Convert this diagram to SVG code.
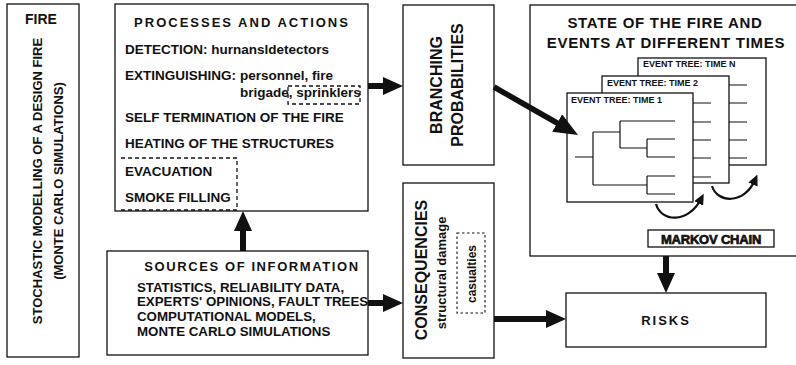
<svg xmlns="http://www.w3.org/2000/svg" width="796" height="365" viewBox="0 0 796 365">
<style>
.box{fill:#fff;stroke:#111;stroke-width:1.3}
.dash{fill:none;stroke:#111;stroke-width:1.3;stroke-dasharray:4,3}
.dot{fill:none;stroke:#111;stroke-width:1.1;stroke-dasharray:2.5,2.5}
text{font-family:"Liberation Sans",Arial,sans-serif;font-weight:bold;fill:#111}
.t13{font-size:13px}
.b{font-size:13.5px}
.s{font-size:13.3px}
.ttl{font-size:13px;letter-spacing:2px}
.et{font-size:9px}
.conn{stroke:#111;fill:none}
.thick{stroke-width:6}
.tree{stroke:#111;stroke-width:1.2;fill:none}
</style>
<defs>
<marker id="head" markerUnits="userSpaceOnUse" viewBox="0 0 20 18" markerWidth="20" markerHeight="18" refX="8" refY="9" orient="auto"><path d="M0,0 L20,9 L0,18 z" fill="#111"/></marker>
<marker id="headL" markerUnits="userSpaceOnUse" viewBox="0 0 24 20" markerWidth="24" markerHeight="20" refX="12" refY="10" orient="auto"><path d="M0,0 L24,10 L0,20 z" fill="#111"/></marker>
<marker id="headS" markerUnits="userSpaceOnUse" viewBox="0 0 11 10" markerWidth="11" markerHeight="10" refX="5" refY="5" orient="auto"><path d="M0,0 L11,5 L0,10 z" fill="#111"/></marker>
</defs>

<g id="fire">
<rect class="box" x="7" y="4" width="72" height="353"/>
<text x="41" y="24" text-anchor="middle" font-size="14">FIRE</text>
<text transform="translate(42,181) rotate(-90)" text-anchor="middle" class="t13">STOCHASTIC MODELLING OF A DESIGN FIRE</text>
<text transform="translate(63,181) rotate(-90)" text-anchor="middle" class="t13">(MONTE CARLO SIMULATIONS)</text>
</g>

<g id="processes">
<rect class="box" x="115" y="4" width="253" height="207"/>
<text x="242" y="27" text-anchor="middle" class="ttl">PROCESSES AND ACTIONS</text>
<text x="125" y="54" class="b">DETECTION: hurnansldetectors</text>
<text x="125" y="80" class="b">EXTINGUISHING:</text>
<text x="240" y="80" class="b">personnel, fire</text>
<text x="240" y="97" class="b">brigade, sprinklers</text>
<rect class="dash" x="288" y="86" width="72" height="18"/>
<text x="125" y="122" class="b">SELF TERMINATION OF THE FIRE</text>
<text x="125" y="148" class="b">HEATING OF THE STRUCTURES</text>
<path class="dash" d="M121,158 H237 V210 H121"/>
<text x="125" y="176" class="b">EVACUATION</text>
<text x="125" y="202" class="b">SMOKE FILLING</text>
</g>

<g id="sources">
<rect class="box" x="107" y="251" width="261" height="104"/>
<text x="252" y="271" text-anchor="middle" class="t13" style="letter-spacing:1.6px">SOURCES OF INFORMATION</text>
<text x="137" y="292" class="s">STATISTICS, RELIABILITY DATA,</text>
<text x="137" y="306" class="s">EXPERTS' OPINIONS, FAULT TREES</text>
<text x="137" y="321" class="s">COMPUTATIONAL MODELS,</text>
<text x="137" y="336" class="s">MONTE CARLO SIMULATIONS</text>
</g>

<g id="branching">
<rect class="box" x="403" y="5" width="91" height="160"/>
<text transform="translate(442,85) rotate(-90)" text-anchor="middle" font-size="16">BRANCHING</text>
<text transform="translate(463,85) rotate(-90)" text-anchor="middle" font-size="16">PROBABILITIES</text>
</g>

<g id="consequencies">
<rect class="box" x="403" y="183" width="91" height="175"/>
<text transform="translate(427,270) rotate(-90)" text-anchor="middle" font-size="16">CONSEQUENCIES</text>
<text transform="translate(446,273) rotate(-90)" text-anchor="middle" class="t13">structural damage</text>
<rect class="dot" x="457" y="233" width="28" height="80"/>
<text transform="translate(476,274) rotate(-90)" text-anchor="middle" font-size="12">casualties</text>
</g>

<g id="state">
<rect class="box" x="530" y="5" width="270" height="251"/>
<text x="665" y="28" text-anchor="middle" font-size="15" style="letter-spacing:0.7px">STATE OF THE FIRE AND</text>
<text x="666" y="48" text-anchor="middle" font-size="15" style="letter-spacing:0.7px">EVENTS AT DIFFERENT TIMES</text>
</g>

<g id="tree-n">
<rect class="box" x="638" y="58" width="128" height="107" stroke-width="1.1"/>
<text x="643" y="67" class="et">EVENT TREE: TIME N</text>
<path class="tree" d="M729,85 H747 M729,103 H747 M729,122 H747 M729,140 H747 M729,158 H747"/>
</g>

<g id="tree-2">
<rect class="box" x="602" y="76" width="127" height="107" stroke-width="1.1"/>
<text x="607" y="86" class="et">EVENT TREE: TIME 2</text>
<path class="tree" d="M693,103 H711 M693,122 H711 M693,140 H711 M693,158 H711 M693,177 H711"/>
</g>

<g id="tree-1">
<rect class="box" x="567" y="93" width="126" height="109" stroke-width="1.1"/>
<text x="571" y="103" class="et">EVENT TREE: TIME 1</text>
<path class="tree" d="M575,157 H593 M593,132 V185 M593,132 H620 M620,121 V148 M620,121 H675 M620,148 H647 M647,139 V157 M647,139 H675 M647,157 H675 M593,185 H647 M647,176 V194 M647,176 H675 M647,194 H675"/>
</g>

<g id="markov">
<rect class="box" x="648" y="230" width="126" height="17" stroke-width="1.1"/>
<text x="711" y="243.5" text-anchor="middle" font-size="13" style="stroke:#111;stroke-width:0.7;letter-spacing:-0.2px">MARKOV CHAIN</text>
</g>

<g id="risks">
<rect class="box" x="566" y="293" width="200" height="54"/>
<text x="666" y="325" text-anchor="middle" class="ttl">RISKS</text>
</g>

<g id="connectors">
<line class="conn thick" x1="243" y1="251" x2="243" y2="223" marker-end="url(#head)" stroke-width="5"/>
<line class="conn thick" x1="368" y1="86" x2="391" y2="86" marker-end="url(#head)"/>
<line class="conn thick" x1="368" y1="303" x2="391" y2="303" marker-end="url(#head)"/>
<line class="conn thick" x1="494" y1="319" x2="554" y2="319" marker-end="url(#head)"/>
<line class="conn thick" x1="666" y1="256" x2="666" y2="281" marker-end="url(#head)" stroke-width="5"/>
<line class="conn" stroke-width="5.5" x1="494" y1="87" x2="567.6" y2="129" marker-end="url(#headL)"/>
<path class="conn" stroke-width="2.2" d="M656,204 C661,222 688,224 701,199" marker-end="url(#headS)"/>
<path class="conn" stroke-width="2.2" d="M712,186 C717,203 744,205 755,180" marker-end="url(#headS)"/>
</g>
</svg>
